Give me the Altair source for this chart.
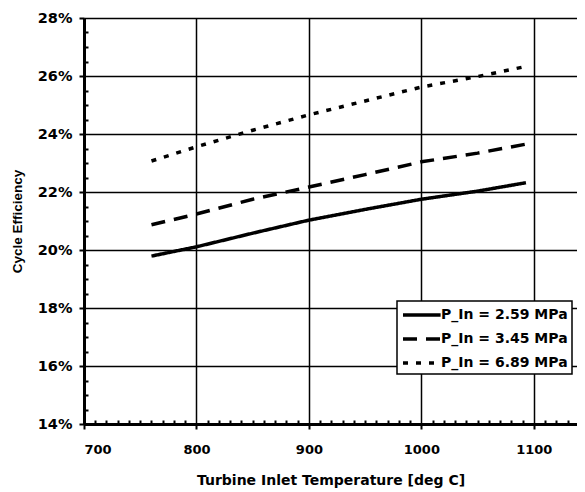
import altair as alt
import pandas as pd

# ---- data ----
temps = [760, 800, 850, 900, 950, 1000, 1050, 1093]
eff_259 = [19.79, 20.11, 20.58, 21.03, 21.40, 21.75, 22.03, 22.32]
eff_345 = [20.87, 21.24, 21.75, 22.17, 22.60, 23.04, 23.34, 23.65]
eff_689 = [23.07, 23.56, 24.13, 24.66, 25.14, 25.62, 25.98, 26.33]

series_names = ["P_In = 2.59 MPa", "P_In = 3.45 MPa", "P_In = 6.89 MPa"]
series_values = [eff_259, eff_345, eff_689]

x_major = [700, 800, 900, 1000, 1100]
x_minor = [v for v in range(710, 1140, 10) if v % 100 != 0]
y_major = [0.14, 0.16, 0.18, 0.20, 0.22, 0.24, 0.26, 0.28]
y_minor = [round(0.14 + 0.005 * i, 3) for i in range(1, 29) if i % 4 != 0]

rows = []
for name, vals in zip(series_names, series_values):
    for t, v in zip(temps, vals):
        rows.append({"series": name, "temp": t, "eff": v / 100.0})
df = pd.DataFrame(rows)

W, H = 493, 406
x_dom = [700, 1138.4]
y_dom = [0.14, 0.28]

xs = alt.Scale(domain=x_dom, nice=False, zero=False)
ys = alt.Scale(domain=y_dom, nice=False, zero=False)

main = alt.Chart(df).mark_line(strokeWidth=3.5, color="black", clip=True).encode(
    x=alt.X("temp:Q", scale=xs, axis=alt.Axis(
        values=x_major, format="d", title="Turbine Inlet Temperature [deg C]",
        grid=True, gridColor="black", gridWidth=1.5, gridOpacity=1,
        domainColor="black", domainWidth=3, tickColor="black", tickWidth=2, tickSize=5,
        labelFont="DejaVu Sans", labelFontWeight="bold", labelFontSize=13, labelColor="black",
        labelPadding=14, titleFont="DejaVu Sans", titleFontSize=14, titleFontWeight="bold",
        titleColor="black", titlePadding=17, orient="bottom")),
    y=alt.Y("eff:Q", scale=ys, axis=alt.Axis(
        values=y_major, format=".0%", title="Cycle Efficiency",
        grid=True, gridColor="black", gridWidth=1.5, gridOpacity=1,
        domainColor="black", domainWidth=3, tickColor="black", tickWidth=2, tickSize=5,
        labelFont="DejaVu Sans", labelFontWeight="bold", labelFontSize=14.5, labelColor="black",
        labelPadding=7, titleFont="Liberation Sans", titleFontSize=13.5, titleFontWeight="bold",
        titleColor="black", titlePadding=13, orient="left")),
    strokeDash=alt.StrokeDash("series:N",
        scale=alt.Scale(domain=series_names, range=[[1, 0], [14, 9], [5, 8]]),
        legend=alt.Legend(title=None, orient="none", legendX=313, legendY=283,
                          symbolType="M-1,0H3.7", symbolSize=256, symbolStrokeWidth=3.5,
                          symbolStrokeColor="black", labelFont="DejaVu Sans",
                          labelFontWeight="bold", labelFontSize=14, labelColor="black",
                          labelOffset=20, strokeColor="black",
                          fillColor="white", padding=4)),
)

minor = alt.Chart(df).mark_line(opacity=0).encode(
    x=alt.X("temp:Q", scale=xs, axis=alt.Axis(
        orient="top", offset=-H, values=x_minor, labels=False, domain=False, grid=False,
        title=None, tickColor="black", tickWidth=2, tickSize=4)),
    y=alt.Y("eff:Q", scale=ys, axis=alt.Axis(
        orient="right", offset=-W, values=y_minor, labels=False, domain=False, grid=False,
        title=None, tickColor="black", tickWidth=2, tickSize=4)),
)

chart = alt.layer(minor, main).resolve_axis(x="independent", y="independent").properties(
    width=W, height=H,
    autosize=alt.AutoSizeParams(type="none"),
    padding={"left": 76, "top": 10, "right": 0, "bottom": 66},
    background="white",
).configure_view(stroke=None).configure_legend(strokeWidth=1.5, rowPadding=7)

chart.save("out.html", embed_options={"renderer": "svg", "actions": False})
